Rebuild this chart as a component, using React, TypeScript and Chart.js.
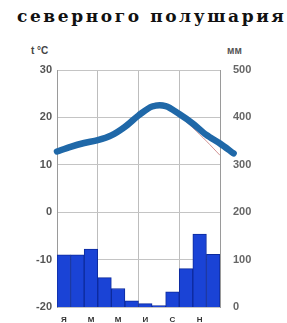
import React, { useEffect, useRef } from 'react';
import { Chart, registerables } from 'chart.js';

Chart.register(...registerables);

const monthLabels = ['Я', '', 'М', '', 'М', '', 'И', '', 'С', '', 'Н', ''];
const precipitation = [110, 110, 122, 62, 39, 13, 7, 3, 32, 81, 154, 111];
const temperature = [12.8, 13.8, 14.6, 15.2, 16.2, 18.0, 20.4, 22.3, 22.4, 20.7, 18.7, 16.3, 14.5, 12.4];
const temperatureThin = [null, null, null, null, null, null, 20.6, 22.8, 22.8, 20.4, 17.8, 15.0, 12.0];
const tempTicks = { min: -20, max: 30, step: 10 };
const precTicks = { min: 0, max: 500, step: 100 };
const seasonGrid = { first: 0, last: 12, step: 3 };
const title = 'северного полушария';

export default function App() {
  const ref = useRef<HTMLCanvasElement>(null);
  useEffect(() => {
    const chart = new Chart(ref.current!, {
      type: 'bar',
      data: {
        labels: monthLabels,
        datasets: [
          {
            type: 'bar',
            data: precipitation,
            xAxisID: 'x',
            yAxisID: 'y2',
            backgroundColor: '#1a43d6',
            borderColor: '#0c2a9c',
            borderWidth: 1,
            barPercentage: 1,
            categoryPercentage: 1,
            grouped: false,
            order: 2,
          } as any,
          {
            type: 'line',
            data: temperature.map((t, i) => ({ x: i, y: t })),
            xAxisID: 'xg',
            yAxisID: 'y',
            borderColor: '#1f68a8',
            borderWidth: 6.5,
            pointRadius: 0,
            tension: 0.3,
            clip: false,
            borderCapStyle: 'round',
            borderJoinStyle: 'round',
            order: 0,
          } as any,
          {
            type: 'line',
            data: temperatureThin
              .map((t, i) => ({ x: i, y: t }))
              .filter((p) => p.y !== null),
            xAxisID: 'xg',
            yAxisID: 'y',
            borderColor: 'rgba(190,100,100,0.7)',
            borderWidth: 1,
            pointRadius: 0,
            tension: 0.3,
            clip: false,
            order: 1,
          } as any,
        ],
      },
      options: {
        responsive: false,
        devicePixelRatio: 1,
        animation: false,
        layout: { padding: { top: 70, left: 0, right: 0, bottom: 0 } },
        plugins: { legend: { display: false }, tooltip: { enabled: false }, title: { display: false } },
        scales: {
          x: {
            type: 'category',
            position: 'bottom',
            offset: true,
            grid: { display: false },
            border: { display: false },
            ticks: {
              autoSkip: false,
              maxRotation: 0,
              padding: 0,
              color: '#333',
              font: { size: 8, weight: 'bold', family: 'Liberation Sans' },
            },
            afterFit: (s: any) => { s.height = 16; },
          },
          xg: {
            type: 'linear',
            position: 'top',
            offset: false,
            ticks: { display: false, stepSize: seasonGrid.step },
            grid: { color: '#bdbdbd', drawTicks: false, offset: false },
            border: { display: false },
            afterDataLimits: (s: any) => { s.min = seasonGrid.first; s.max = seasonGrid.last; },
            afterFit: (s: any) => { s.height = 0; },
          },
          y: {
            position: 'left',
            min: tempTicks.min,
            max: tempTicks.max,
            ticks: { stepSize: tempTicks.step, padding: 5, color: '#555', font: { size: 11, family: 'Liberation Sans', weight: 'bold' } },
            grid: { color: '#c4c4c4', drawTicks: false },
            border: { display: true, color: '#9a9a9a' },
            afterFit: (s: any) => { s.width = 57; },
          },
          y2: {
            position: 'right',
            min: precTicks.min,
            max: precTicks.max,
            ticks: { stepSize: precTicks.step, padding: 5, color: '#666', font: { size: 11, family: 'Liberation Sans', weight: 'bold' } },
            grid: { display: false },
            border: { display: true, color: '#9a9a9a' },
            afterFit: (s: any) => { s.width = 67; },
          },
        },
      } as any,
    });
    return () => chart.destroy();
  }, []);

  return (
    <div style={{ position: 'absolute', top: 0, left: 0, width: 287, height: 323, background: '#fff', overflow: 'hidden' }}>
      <div
        style={{
          position: 'absolute',
          top: 6,
          left: 17,
          whiteSpace: 'nowrap',
          font: 'bold 17px "DejaVu Serif"',
          letterSpacing: '2.6px',
          color: '#111',
        }}
      >
        {title}
      </div>
      <span style={{ position: 'absolute', top: 45, left: 31, font: 'bold 10px "Liberation Sans"', color: '#444' }}>t °C</span>
      <span style={{ position: 'absolute', top: 45, left: 227, font: 'bold 10px "Liberation Sans"', color: '#555' }}>мм</span>
      <canvas ref={ref} width={287} height={323} style={{ position: 'absolute', top: 0, left: 0 }} />
    </div>
  );
}
